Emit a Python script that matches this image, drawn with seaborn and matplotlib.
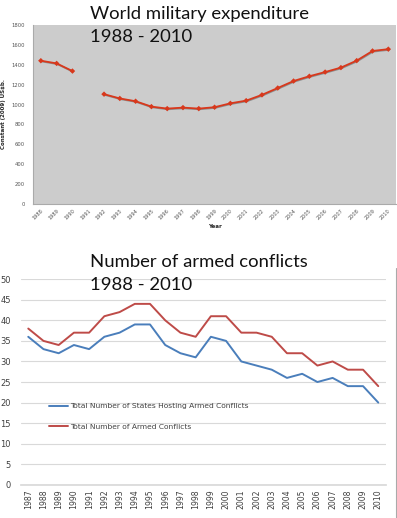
import numpy as np
import pandas as pd
import seaborn as sns
from matplotlib import pyplot as plt
import matplotlib.patheffects as pe

# world military expenditure, constant (2009) US$b, 1991 missing
spend_years = list(range(1988, 2011))
spend_values = [1440, 1413, 1336, np.nan, 1104, 1061, 1033, 979, 959, 969, 959,
                973, 1012, 1039, 1097, 1166, 1236, 1284, 1326, 1371, 1441, 1538, 1556]

# armed conflicts
conf_years = list(range(1987, 2011))
states_hosting = [36, 33, 32, 34, 33, 36, 37, 39, 39, 34, 32, 31,
                  36, 35, 30, 29, 28, 26, 27, 25, 26, 24, 24, 20]
armed_conflicts = [38, 35, 34, 37, 37, 41, 42, 44, 44, 40, 37, 36,
                   41, 41, 37, 37, 36, 32, 32, 29, 30, 28, 28, 24]

sns.set_theme(style="white")
plt.rcParams["font.family"] = ["DejaVu Sans"]

fig = plt.figure(figsize=(3.97, 5.18), dpi=100)

# ---- top chart: military expenditure
ax1 = fig.add_axes([0.083, 0.606, 0.915, 0.346])
ax1.set_facecolor("#cccccc")
df_spend = pd.DataFrame({"pos": np.arange(len(spend_years)), "value": spend_values})
df_spend["segment"] = (df_spend["value"].isna()).cumsum()
df_spend = df_spend.dropna()
sns.lineplot(data=df_spend, x="pos", y="value", units="segment", estimator=None,
             color="#d8381c", lw=1.3, marker="D", markersize=2.8, markeredgewidth=0,
             ax=ax1, path_effects=[pe.SimpleLineShadow(offset=(0.4, -0.5), alpha=0.35),
                                   pe.Normal()])
ax1.set_xlim(-0.5, len(spend_years) - 0.5)
ax1.set_ylim(0, 1800)
ax1.set_yticks(range(0, 1801, 200))
ax1.set_xticks(np.arange(len(spend_years)))
ax1.set_xticklabels([str(y) for y in spend_years], rotation=45, ha="right",
                    rotation_mode="anchor", fontsize=3.6, color="#555555")
ax1.tick_params(axis="y", labelsize=3.8, labelcolor="#555555", length=0, pad=6)
ax1.tick_params(axis="x", length=0, pad=3)
ax1.set_xlabel("Year", fontsize=4, fontweight="bold", labelpad=2)
ax1.set_ylabel("Constant (2009) US$b.", fontsize=4, fontweight="bold", labelpad=4)
for s in ["top", "right"]:
    ax1.spines[s].set_visible(False)
for s in ["left", "bottom"]:
    ax1.spines[s].set_color("#aaaaaa")
    ax1.spines[s].set_linewidth(0.8)
fig.text(0.227, 0.988, "World military expenditure\n1988 - 2010", ha="left", va="top",
         fontsize=13.3, family="Lato", color="#111111", linespacing=1.55)

# ---- bottom chart: armed conflicts
ax2 = fig.add_axes([0.052, 0.064, 0.92, 0.397])
df_conf = pd.DataFrame({
    "pos": np.tile(np.arange(len(conf_years)), 2),
    "count": states_hosting + armed_conflicts,
    "series": ["Total Number of States Hosting Armed Conflicts"] * len(conf_years)
              + ["Total Number of Armed Conflicts"] * len(conf_years),
})
sns.lineplot(data=df_conf, x="pos", y="count", hue="series",
             palette=["#4a7ebb", "#be4b48"], lw=1.4, ax=ax2)
ax2.set_xlim(-0.5, len(conf_years) - 0.5)
ax2.set_ylim(0, 50)
ax2.set_yticks(range(0, 51, 5))
ax2.set_xticks(np.arange(len(conf_years)))
ax2.set_xticklabels([str(y) for y in conf_years], rotation=90, fontsize=5.6,
                    color="#404040")
ax2.tick_params(axis="y", labelsize=6, labelcolor="#404040", length=0, pad=7)
ax2.tick_params(axis="x", length=0, pad=3)
ax2.yaxis.grid(True, color="#d9d9d9", lw=0.8)
ax2.set_axisbelow(True)
ax2.set_xlabel("")
ax2.set_ylabel("")
for s in ["top", "right", "left"]:
    ax2.spines[s].set_visible(False)
ax2.spines["bottom"].set_color("#d9d9d9")
ax2.legend(loc="upper left", bbox_to_anchor=(0.058, 0.43), frameon=False,
           fontsize=5.4, handlelength=2.6, handletextpad=0.2, labelspacing=1.9,
           labelcolor="#404040")
# right border of the chart frame
fig.add_artist(plt.Line2D([0.997, 0.997], [0.0, 0.482], color="#aaaaaa", lw=0.8))
fig.text(0.227, 0.509, "Number of armed conflicts\n1988 - 2010", ha="left", va="top",
         fontsize=13.3, family="Lato", color="#111111", linespacing=1.55)

fig.savefig("out.png", dpi=100)
